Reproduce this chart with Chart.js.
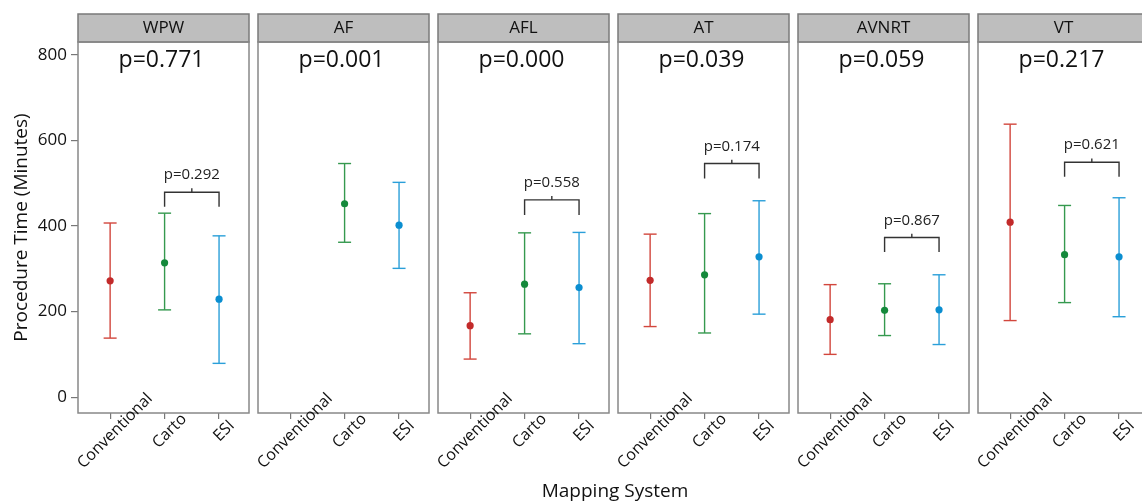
<!DOCTYPE html>
<html>
<head>
<meta charset="utf-8">
<script src="https://cdn.jsdelivr.net/npm/chart.js@4.4.1/dist/chart.umd.min.js"></script>
<style>
  body { margin: 0; width: 1142px; height: 503px; overflow: hidden; background: #fff; position: relative; font-family: 'Open Sans', sans-serif; }
  .panel { position: absolute; top: 0; }
  #xtitle { position: absolute; left: 415px; width: 400px; top: 477px; text-align: center; font-size: 19px; line-height: 26px; color: #111; }
</style>
</head>
<body>
<div id="charts"></div>
<div id="xtitle">Mapping System</div>
<script>
// facets and categories
var panels = ['WPW', 'AF', 'AFL', 'AT', 'AVNRT', 'VT'];
var categories = ['Conventional', 'Carto', 'ESI'];
var yTicks = [0, 200, 400, 600, 800];

// p-values: overall per facet, and Carto vs ESI bracket
var overallP = ['p=0.771', 'p=0.001', 'p=0.000', 'p=0.039', 'p=0.059', 'p=0.217'];
var pairP = ['p=0.292', null, 'p=0.558', 'p=0.174', 'p=0.867', 'p=0.621'];
var bracketTop = [479, null, 461, 546, 373, 549];
var bracketLeg = [445, null, 426, 511, 339, 515];

// mean and interval per mapping system, one value per facet
var convMean = [272, null, 167, 273, 181, 409];
var convLow = [138, null, 89, 165, 100, 179];
var convHigh = [407, null, 244, 381, 263, 638];
var cartoMean = [314, 452, 264, 286, 203, 333];
var cartoLow = [204, 362, 148, 150, 144, 221];
var cartoHigh = [430, 546, 384, 429, 265, 448];
var esiMean = [229, 402, 256, 328, 204, 328];
var esiLow = [79, 301, 125, 194, 123, 188];
var esiHigh = [377, 502, 385, 459, 286, 466];

var means = [convMean, cartoMean, esiMean];
var lows = [convLow, cartoLow, esiLow];
var highs = [convHigh, cartoHigh, esiHigh];
var lineColors = ['#d2463c', '#35994f', '#2a9fd9'];
var dotColors = ['#c22a2a', '#14893b', '#0b8ed0'];

Chart.defaults.font.family = "'Open Sans', sans-serif";
Chart.defaults.color = '#111';

// header strip, frame, p-values and rotated category labels
var facetPlugin = {
  id: 'facet',
  afterDraw: function (chart) {
    var i = chart.options.plugins.facet.index;
    var a = chart.chartArea;
    var xs = chart.scales.x, ys = chart.scales.y;
    var ctx = chart.ctx;
    var cx = (a.left + a.right) / 2;
    ctx.save();
    ctx.lineWidth = 1.5;
    ctx.strokeStyle = '#7a7a7a';
    ctx.fillStyle = '#bebebe';
    ctx.fillRect(a.left, 14, a.right - a.left, a.top - 14);
    ctx.strokeRect(a.left, 14, a.right - a.left, a.top - 14);
    ctx.strokeStyle = '#888';
    ctx.strokeRect(a.left, a.top, a.right - a.left, a.bottom - a.top);

    ctx.fillStyle = '#111';
    ctx.textAlign = 'center';
    ctx.textBaseline = 'middle';
    ctx.font = "17px 'Open Sans'";
    ctx.fillText(panels[i], cx, 28);

    ctx.textBaseline = 'alphabetic';
    ctx.font = "23px 'Open Sans'";
    ctx.fillText(overallP[i], cx - 2, 67);

    if (pairP[i]) {
      ctx.font = "15px 'Open Sans'";
      ctx.fillStyle = '#222';
      ctx.fillText(pairP[i], xs.getPixelForValue(1.5), ys.getPixelForValue(bracketTop[i]) - 13);
    }

    ctx.fillStyle = '#111';
    ctx.font = "16px 'Open Sans'";
    ctx.textBaseline = 'middle';
    categories.forEach(function (c, j) {
      ctx.save();
      ctx.translate(xs.getPixelForValue(j) + 5, 431);
      ctx.rotate(-Math.PI / 4);
      ctx.fillText(c, 0, 0);
      ctx.restore();
    });
    ctx.restore();
  }
};

var holder = document.getElementById('charts');

panels.forEach(function (name, i) {
  var panelLeft = 78 + i * 180;
  var first = i === 0;
  var canvasLeft = first ? 0 : panelLeft - 10;
  var width = first ? 259 : 191;

  var canvas = document.createElement('canvas');
  canvas.className = 'panel';
  canvas.width = width;
  canvas.height = 503;
  canvas.style.left = canvasLeft + 'px';
  holder.appendChild(canvas);

  var datasets = [];
  for (var s = 0; s < 3; s++) {
    if (means[s][i] == null) continue;
    datasets.push({
      data: [{ x: s, y: means[s][i] }],
      pointRadius: 3.6,
      pointBackgroundColor: dotColors[s],
      pointBorderWidth: 0,
      order: 0
    });
    datasets.push({
      data: [{ x: s, y: lows[s][i] }, { x: s, y: highs[s][i] }],
      showLine: true,
      borderColor: lineColors[s],
      borderWidth: 1.4,
      pointStyle: 'line',
      pointRadius: 6.5,
      pointBorderColor: lineColors[s],
      pointBorderWidth: 1.4,
      order: 1
    });
  }
  if (pairP[i]) {
    datasets.push({
      data: [{ x: 1, y: bracketLeg[i] }, { x: 1, y: bracketTop[i] }, { x: 2, y: bracketTop[i] }, { x: 2, y: bracketLeg[i] }],
      showLine: true,
      borderColor: '#333',
      borderWidth: 1.4,
      pointRadius: 0,
      order: 2
    });
    datasets.push({
      data: [{ x: 1.5, y: bracketTop[i] }, { x: 1.5, y: bracketTop[i] + 9 }],
      showLine: true,
      borderColor: '#333',
      borderWidth: 1.4,
      pointRadius: 0,
      order: 2
    });
  }

  new Chart(canvas, {
    type: 'scatter',
    data: { datasets: datasets },
    plugins: [facetPlugin],
    options: {
      responsive: false,
      animation: false,
      events: [],
      layout: { padding: { left: first ? 0 : 10, right: 10, top: 42, bottom: 0 } },
      plugins: {
        legend: { display: false },
        tooltip: { enabled: false },
        facet: { index: i }
      },
      scales: {
        x: {
          type: 'linear',
          min: -0.59,
          max: 2.55,
          afterBuildTicks: function (scale) {
            scale.ticks = categories.map(function (c, j) { return { value: j }; });
          },
          afterFit: function (scale) { scale.height = 90; },
          ticks: { display: false },
          grid: { drawOnChartArea: false, tickLength: 6, color: '#777', lineWidth: 1.2 },
          border: { display: false }
        },
        y: {
          display: first,
          min: -37,
          max: 830,
          afterBuildTicks: function (scale) {
            scale.ticks = yTicks.map(function (v) { return { value: v }; });
          },
          afterFit: function (scale) { scale.width = first ? 78 : 0; },
          ticks: { font: { size: 17 }, padding: 4, color: '#111' },
          grid: { drawOnChartArea: false, tickLength: 7, color: '#777', lineWidth: 1.2 },
          border: { display: false },
          title: {
            display: true,
            text: 'Procedure Time (Minutes)',
            font: { size: 19 },
            padding: { top: 10, bottom: 0 },
            color: '#111'
          }
        }
      }
    }
  });
});
</script>
</body>
</html>
